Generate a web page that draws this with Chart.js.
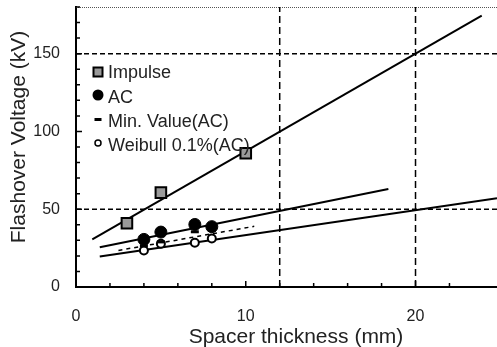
<!DOCTYPE html>
<html lang="en">
<head>
  <meta charset="UTF-8" />
  <title>Flashover Voltage vs Spacer thickness</title>
  <style>
    * { box-sizing: border-box; margin: 0; padding: 0; }
    html, body { background: #fff; overflow: hidden; }
    canvas { display: block; }
  </style>
</head>
<body>
  <canvas id="chart" width="497" height="347"></canvas>

  <script src="https://cdn.jsdelivr.net/npm/chart.js"></script>
  <script>
// measured points (mm, kV)
const impulseX = [3, 5, 10];
const impulseY = [41, 60.7, 86];
const acX = [4, 5, 7, 8];
const acY = [30.6, 35.3, 40.2, 38.8];
const minX = [4, 5, 7, 8];
const minY = [26.5, 29, 35.5, 36.5];
const weibullX = [4, 5, 7, 8];
const weibullY = [23.5, 27.8, 28.5, 31.2];

// fitted lines, end points
const impulseFitX = [0.96, 23.9];
const impulseFitY = [30.6, 174.5];
const acFitX = [1.4, 18.4];
const acFitY = [25.5, 63];
const minFitX = [2.5, 10.5];
const minFitY = [23.5, 39];
const weibullFitX = [1.4, 24.8];
const weibullFitY = [19.6, 57];

// dashed reference lines
const refX = [12, 20];
const refY = [50, 150];

const xMax = 24.8;
const yMax = 180;
const xTickLabels = [0, 10, 20];
const yTickLabels = [0, 50, 100, 150];

const legendItems = ['Impulse', 'AC', 'Min. Value(AC)', 'Weibull 0.1%(AC)'];
const xTitle = 'Spacer thickness (mm)';
const yTitle = 'Flashover Voltage (kV)';

const FONT = "'Liberation Sans', Arial, sans-serif";
const TXT = '#222';

const pts = (xs, ys) => xs.map((x, i) => ({ x, y: ys[i] }));

const fitLine = (xs, ys, dash) => ({
  type: 'line',
  data: pts(xs, ys),
  borderColor: '#000',
  borderWidth: dash ? 1.5 : 2,
  borderDash: dash || [],
  pointRadius: 0,
  fill: false,
  order: 5
});

const refDatasets = [
  ...refX.map(v => ({
    type: 'line', data: [{ x: v, y: 0 }, { x: v, y: yMax }],
    borderColor: '#000', borderWidth: 1.5, borderDash: [7, 4], pointRadius: 0, order: 9
  })),
  ...refY.map(v => ({
    type: 'line', data: [{ x: 0, y: v }, { x: xMax, y: v }],
    borderColor: '#000', borderWidth: 1.5, borderDash: [5, 3], pointRadius: 0, order: 9
  }))
];

// inward ticks, dotted top frame, axis titles and the in-plot legend
const decor = {
  id: 'decor',
  afterDraw(chart) {
    const { ctx, chartArea: a, scales: { x, y } } = chart;
    ctx.save();
    ctx.strokeStyle = '#555';
    ctx.lineWidth = 1;
    ctx.setLineDash([1, 1]);
    ctx.beginPath();
    ctx.moveTo(a.left, a.top + 0.5);
    ctx.lineTo(a.right, a.top + 0.5);
    ctx.stroke();
    ctx.setLineDash([]);

    ctx.strokeStyle = '#000';
    ctx.lineWidth = 1.5;
    ctx.beginPath();
    x.ticks.forEach(t => {
      if (t.value % 2) return;
      const px = x.getPixelForValue(t.value);
      const len = t.value % 10 ? 4 : 6;
      ctx.moveTo(px, a.bottom);
      ctx.lineTo(px, a.bottom - len);
    });
    y.ticks.forEach(t => {
      if (t.value % 10) return;
      const py = y.getPixelForValue(t.value);
      const len = t.value % 50 ? 4 : 6;
      ctx.moveTo(a.left, py);
      ctx.lineTo(a.left + len, py);
    });
    ctx.stroke();

    // axis titles
    ctx.font = '21px ' + FONT;
    ctx.fillStyle = TXT;
    ctx.textAlign = 'center';
    ctx.textBaseline = 'middle';
    ctx.fillText(xTitle, 296, 337);
    ctx.save();
    ctx.translate(19, 137);
    ctx.rotate(-Math.PI / 2);
    ctx.fillText(yTitle, 0, 0);
    ctx.restore();

    // legend
    const mx = a.left + 22, tx = a.left + 32;
    const rows = [a.top + 65, a.top + 90, a.top + 114, a.top + 138];
    ctx.font = '18px ' + FONT;
    ctx.textAlign = 'left';
    legendItems.forEach((t, i) => ctx.fillText(t, tx, rows[i] + 1));

    ctx.fillStyle = '#9a9a9a';
    ctx.strokeStyle = '#000';
    ctx.lineWidth = 2;
    ctx.fillRect(mx - 4.5, rows[0] - 4.5, 9, 9);
    ctx.strokeRect(mx - 4.5, rows[0] - 4.5, 9, 9);

    ctx.fillStyle = '#000';
    ctx.beginPath();
    ctx.arc(mx, rows[1] - 2, 5.5, 0, Math.PI * 2);
    ctx.fill();

    ctx.fillRect(mx - 3.5, rows[2] - 3, 7, 3);

    ctx.fillStyle = '#fff';
    ctx.lineWidth = 1.5;
    ctx.beginPath();
    ctx.arc(mx, rows[3] - 2, 3, 0, Math.PI * 2);
    ctx.fill();
    ctx.stroke();
    ctx.restore();
  }
};

new Chart(document.getElementById('chart'), {
  type: 'scatter',
  data: {
    datasets: [
      {
        label: 'Impulse', data: pts(impulseX, impulseY),
        pointStyle: 'rect', pointRadius: 7.5, pointBackgroundColor: '#9a9a9a',
        pointBorderColor: '#000', pointBorderWidth: 2, order: 1
      },
      {
        label: 'AC', data: pts(acX, acY),
        pointStyle: 'circle', pointRadius: 6, pointBackgroundColor: '#000',
        pointBorderColor: '#000', pointBorderWidth: 1, order: 2
      },
      {
        label: 'Min. Value(AC)', data: pts(minX, minY),
        pointStyle: 'line', pointRadius: 4, pointBorderColor: '#000',
        pointBorderWidth: 3, order: 2
      },
      {
        label: 'Weibull 0.1%(AC)', data: pts(weibullX, weibullY),
        pointStyle: 'circle', pointRadius: 4, pointBackgroundColor: '#fff',
        pointBorderColor: '#000', pointBorderWidth: 2, order: 2
      },
      fitLine(impulseFitX, impulseFitY),
      fitLine(acFitX, acFitY),
      fitLine(minFitX, minFitY, [4, 4]),
      fitLine(weibullFitX, weibullFitY),
      ...refDatasets
    ]
  },
  options: {
    responsive: false,
    animation: false,
    layout: { autoPadding: false, padding: { top: 7, right: 0, left: 0, bottom: 0 } },
    plugins: { legend: { display: false }, tooltip: { enabled: false } },
    scales: {
      x: {
        type: 'linear', min: 0, max: xMax,
        afterFit: s => { s.height = 60; s.paddingRight = 0; s.paddingLeft = 0; },
        grid: { display: false },
        border: { display: true, color: '#000', width: 2 },
        ticks: {
          stepSize: 2, autoSkip: false, maxRotation: 0, padding: 12,
          color: TXT, font: { family: FONT, size: 16 },
          callback: v => xTickLabels.includes(v) ? v : ''
        }
      },
      y: {
        type: 'linear', min: 0, max: yMax,
        afterFit: s => { s.width = 76; s.paddingTop = 0; s.paddingBottom = 0; },
        grid: { display: false },
        border: { display: true, color: '#000', width: 2 },
        ticks: {
          stepSize: 10, autoSkip: false, padding: 8,
          color: TXT, font: { family: FONT, size: 16 },
          callback: v => yTickLabels.includes(v) ? v : ''
        }
      }
    }
  },
  plugins: [decor]
});
  </script>
</body>
</html>
